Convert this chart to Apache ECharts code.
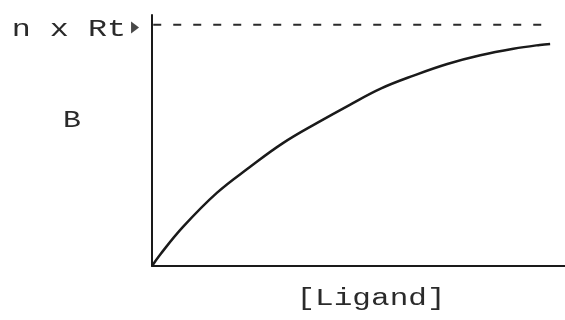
<!DOCTYPE html>
<html>
<head>
<meta charset="utf-8">
<script src="https://cdn.jsdelivr.net/npm/echarts@6/dist/echarts.min.js"></script>
<style>
html,body{margin:0;padding:0;background:#fff;}
#main{width:565px;height:320px;}
</style>
</head>
<body>
<div id="main"></div>
<script>
// 饱和结合曲线
var ligand = [0, 2.0, 7.5, 15.7, 23.7, 31.7, 40.0, 47.9, 55.5, 63.5, 71.5, 79.5, 87.5, 93.9, 96.4];
var bound = [0, 4.8, 16.2, 30.3, 41.0, 50.9, 59.3, 66.8, 73.6, 79.0, 83.7, 87.3, 90.0, 91.6, 92.0];
var rtLevel = 100;
var dashX = [0.3, 95.4];
var rtMarker = [-4.1, 98.8];

var curveData = ligand.map(function (x, i) { return [x, bound[i]]; });
var dashData = dashX.map(function (x) { return [x, rtLevel]; });

var txtFont = 'Liberation Mono, Courier New, monospace';
var txtColor = '#2a2a2a';

var myChart = echarts.init(document.getElementById('main'), null, {renderer: 'canvas'});
var option = {
    animation: false,
    backgroundColor: '#fff',
    grid: {
        left: 152,
        right: 0,
        top: 15,
        bottom: 54
    },
    xAxis: {
        type: 'value',
        min: 0,
        max: 100,
        axisLine: {show: true, lineStyle: {color: '#1a1a1a', width: 2}},
        axisTick: {show: false},
        axisLabel: {show: false},
        splitLine: {show: false}
    },
    yAxis: {
        type: 'value',
        min: 0,
        max: 104,
        axisLine: {show: true, lineStyle: {color: '#1a1a1a', width: 2}},
        axisTick: {show: false},
        axisLabel: {show: false},
        splitLine: {show: false}
    },
    graphic: [
        {
            type: 'text', x: 126, y: 30, scaleX: 1.38,
            style: {text: 'n x Rt', font: '23px ' + txtFont, fill: txtColor, align: 'right', verticalAlign: 'middle'}
        },
        {
            type: 'text', x: 72, y: 121, scaleX: 1.3,
            style: {text: 'B', font: '23px ' + txtFont, fill: txtColor, align: 'center', verticalAlign: 'middle'}
        },
        {
            type: 'text', x: 371, y: 299, scaleX: 1.35,
            style: {text: '[Ligand]', font: '23px ' + txtFont, fill: txtColor, align: 'center', verticalAlign: 'middle'}
        }
    ],
    series: [
        {
            type: 'line',
            data: curveData,
            smooth: 0.4,
            showSymbol: false,
            lineStyle: {color: '#1a1a1a', width: 2.5}
        },
        {
            type: 'line',
            data: dashData,
            showSymbol: false,
            lineStyle: {color: '#2a2a2a', width: 2, type: [8, 12]}
        },
        {
            type: 'scatter',
            data: [rtMarker],
            clip: false,
            symbol: 'triangle',
            symbolSize: [12, 8],
            symbolRotate: -90,
            itemStyle: {color: '#1a1a1a'}
        }
    ]
};
myChart.setOption(option);
</script>
</body>
</html>
